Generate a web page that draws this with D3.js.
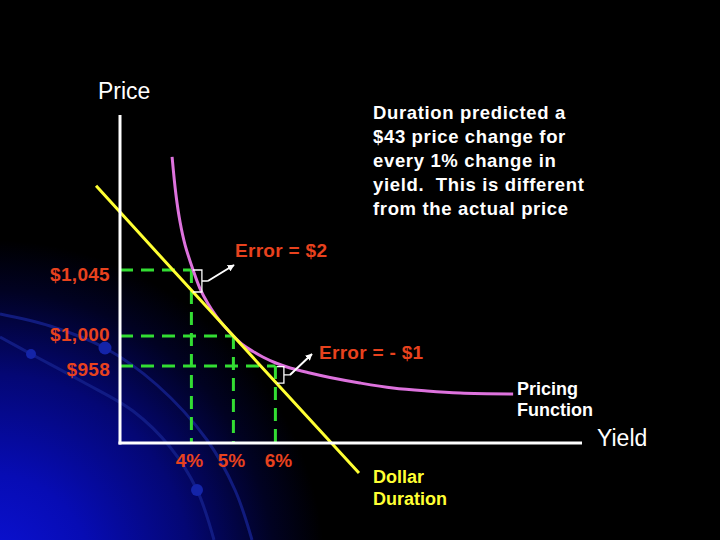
<!DOCTYPE html>
<html>
<head>
<meta charset="utf-8">
<script src="https://cdn.jsdelivr.net/npm/d3@7"></script>
<style>
  html, body { margin: 0; padding: 0; background: #000; }
  svg { display: block; }
  text { font-family: "Liberation Sans", Arial, Helvetica, sans-serif; }
</style>
</head>
<body>
<svg id="chart" width="720" height="540"></svg>
<script>
// ---------------- data ----------------
const yieldTicks = [4, 5, 6];
const yieldTickLabels = ["4%", "5%", "6%"];
const priceTicks = [1045, 1000, 958];
const priceTickLabels = ["$1,045", "$1,000", "$958"];

// pricing function (actual price vs yield)
const pricingYield = [3.54, 3.63, 3.73, 3.85, 4.04, 4.20, 4.40, 4.59, 4.78, 5.00, 5.23, 5.47, 5.70, 6.01, 6.35, 6.82, 7.30, 8.01, 8.80, 9.61, 10.40, 11.66];
const pricingPrice = [1121.6, 1096.5, 1077.5, 1061.9, 1045, 1032.7, 1021.8, 1013.6, 1006.8, 1000, 987.4, 978.3, 970.6, 962.2, 955.2, 948.2, 941.9, 934.2, 927.1, 922.9, 920.1, 918.7];

// dollar duration (tangent line)
const durationYield = [1.73, 3.56, 5.00, 5.65, 7.99];
const durationPrice = [1102, 1045, 1000, 958, 808];

// error brackets: yield, actual price, predicted price
const errorYield = [4, 6];
const errorTop = [1045, 957];
const errorBottom = [1030, 934];
const errorLabels = ["Error = $2", "Error = - $1"];

const noteLines = [
  "Duration predicted a",
  "$43 price change for",
  "every 1% change in",
  "yield.  This is different",
  "from the actual price"
];

// ---------------- layout ----------------
const W = 720, H = 540;
const plotLeft = 120, plotRight = 582, plotBottom = 443, plotTop = 115;
const red = "#e8421e", green = "#33dd33", yellow = "#ffff33", pink = "#dd72dd";

const svg = d3.select("#chart");

const x = d3.scaleLinear().domain([2.3, 13.3]).range([plotLeft, plotRight]);
// schematic (piecewise) price axis, as on the slide
const y = d3.scaleLinear().domain([850, 958, 1000, 1045, 1150]).range([plotBottom, 366, 336, 270, plotTop]);

// ---------------- background ----------------
const defs = svg.append("defs");
const rg = defs.append("radialGradient").attr("id", "bgGlow")
  .attr("gradientUnits", "userSpaceOnUse")
  .attr("cx", -10).attr("cy", 575).attr("r", 335)
  .attr("fx", -10).attr("fy", 575);
rg.append("stop").attr("offset", 0).attr("stop-color", "#0c12d8");
rg.append("stop").attr("offset", 0.3).attr("stop-color", "#070cb4");
rg.append("stop").attr("offset", 0.6).attr("stop-color", "#040774");
rg.append("stop").attr("offset", 0.85).attr("stop-color", "#010222");
rg.append("stop").attr("offset", 1).attr("stop-color", "#000000");

svg.append("rect").attr("width", W).attr("height", H).attr("fill", "#000");
svg.append("rect").attr("width", W).attr("height", H).attr("fill", "url(#bgGlow)");

const arcLine = d3.line().curve(d3.curveCatmullRom);
const arcA = [[0, 314], [50, 326], [105, 348], [157, 385], [207, 440], [235, 490], [252, 540]];
const arcB = [[0, 337], [31, 354], [83, 382], [133, 411], [170, 447], [197, 490], [214, 540]];
[arcA, arcB].forEach(a => {
  svg.append("path").attr("d", arcLine(a)).attr("fill", "none")
    .attr("stroke", "#14208a").attr("stroke-width", 3).attr("opacity", 0.85);
});
[[31, 354, 5], [105, 348, 6.5], [197, 490, 6]].forEach(d => {
  svg.append("circle").attr("cx", d[0]).attr("cy", d[1]).attr("r", d[2]).attr("fill", "#1424a8");
});

// ---------------- guide lines ----------------
const guides = svg.append("g");
yieldTicks.forEach((yv, i) => {
  const pv = priceTicks[i];
  guides.append("line")
    .attr("x1", plotLeft).attr("x2", x(yv)).attr("y1", y(pv)).attr("y2", y(pv))
    .attr("stroke", green).attr("stroke-width", 3).attr("stroke-dasharray", "13,8");
  guides.append("line")
    .attr("x1", x(yv)).attr("x2", x(yv)).attr("y1", y(pv)).attr("y2", plotBottom)
    .attr("stroke", green).attr("stroke-width", 3).attr("stroke-dasharray", "13,8");
});

// ---------------- curves ----------------
const pricingData = pricingYield.map((v, i) => [v, pricingPrice[i]]);
const durationData = durationYield.map((v, i) => [v, durationPrice[i]]);

svg.append("path")
  .attr("d", d3.line().x(d => x(d[0])).y(d => y(d[1])).curve(d3.curveCatmullRom)(pricingData))
  .attr("fill", "none").attr("stroke", pink).attr("stroke-width", 3);

svg.append("path")
  .attr("d", d3.line().x(d => x(d[0])).y(d => y(d[1]))(durationData))
  .attr("fill", "none").attr("stroke", yellow).attr("stroke-width", 3);

// ---------------- axes ----------------
svg.append("line").attr("x1", plotLeft).attr("x2", plotLeft).attr("y1", plotTop).attr("y2", plotBottom + 1.5)
  .attr("stroke", "#fff").attr("stroke-width", 3);
svg.append("line").attr("x1", plotLeft - 1.5).attr("x2", plotRight).attr("y1", plotBottom).attr("y2", plotBottom)
  .attr("stroke", "#fff").attr("stroke-width", 3);

svg.append("text").attr("x", 98).attr("y", 99).attr("fill", "#fff")
  .attr("font-size", 23).text("Price");
svg.append("text").attr("x", 597).attr("y", 446).attr("fill", "#fff")
  .attr("font-size", 23).text("Yield");

// tick labels
const priceLabelDy = [11, 5, 10];
svg.append("g").selectAll("text").data(priceTicks).join("text")
  .attr("x", 110).attr("y", (d, i) => y(d) + priceLabelDy[i])
  .attr("text-anchor", "end").attr("fill", red).attr("font-weight", "bold")
  .attr("font-size", 19).attr("letter-spacing", 0.3)
  .text((d, i) => priceTickLabels[i]);

svg.append("g").selectAll("text").data(yieldTicks).join("text")
  .attr("x", (d, i) => x(d) + [-2, -2, 3][i]).attr("y", 467)
  .attr("text-anchor", "middle").attr("fill", red).attr("font-weight", "bold")
  .attr("font-size", 19)
  .text((d, i) => yieldTickLabels[i]);

// ---------------- error brackets ----------------
defs.append("marker").attr("id", "arrow").attr("viewBox", "0 0 10 10")
  .attr("refX", 9).attr("refY", 5).attr("markerWidth", 7).attr("markerHeight", 7)
  .attr("markerUnits", "userSpaceOnUse").attr("orient", "auto")
  .append("path").attr("d", "M0,0 L10,5 L0,10 Z").attr("fill", "#fff");

const bracketW = [9, 7];
const labelPos = [[235, 257], [319, 359]];
const arrowEnd = [[234, 265], [312, 354]];
errorYield.forEach((yv, i) => {
  const x0 = x(yv) + 1.5, x1 = x0 + bracketW[i];
  const t = y(errorTop[i]), b = y(errorBottom[i]), m = (t + b) / 2;
  svg.append("path")
    .attr("d", `M${x0},${t} H${x1} V${b} H${x0} M${x1},${m} H${x1 + 6}`)
    .attr("fill", "none").attr("stroke", "#fff").attr("stroke-width", 1.3);
  svg.append("line")
    .attr("x1", x1 + 6).attr("y1", m).attr("x2", arrowEnd[i][0]).attr("y2", arrowEnd[i][1])
    .attr("stroke", "#fff").attr("stroke-width", 2).attr("marker-end", "url(#arrow)");
  svg.append("text").attr("x", labelPos[i][0]).attr("y", labelPos[i][1])
    .attr("fill", red).attr("font-weight", "bold").attr("font-size", 19).attr("letter-spacing", 0.3)
    .text(errorLabels[i]);
});

// ---------------- annotations ----------------
svg.append("g").selectAll("text").data(noteLines).join("text")
  .attr("x", 373).attr("y", (d, i) => 119 + i * 24)
  .attr("fill", "#fff").attr("font-weight", "bold").attr("font-size", 18.5)
  .attr("letter-spacing", 0.65).attr("xml:space", "preserve").style("white-space", "pre")
  .text(d => d);

svg.append("g").selectAll("text").data(["Pricing", "Function"]).join("text")
  .attr("x", 517).attr("y", (d, i) => 395 + i * 21)
  .attr("fill", "#fff").attr("font-weight", "bold").attr("font-size", 18)
  .text(d => d);

svg.append("g").selectAll("text").data(["Dollar", "Duration"]).join("text")
  .attr("x", 373).attr("y", (d, i) => 483 + i * 22)
  .attr("fill", yellow).attr("font-weight", "bold").attr("font-size", 18)
  .text(d => d);
</script>
</body>
</html>
